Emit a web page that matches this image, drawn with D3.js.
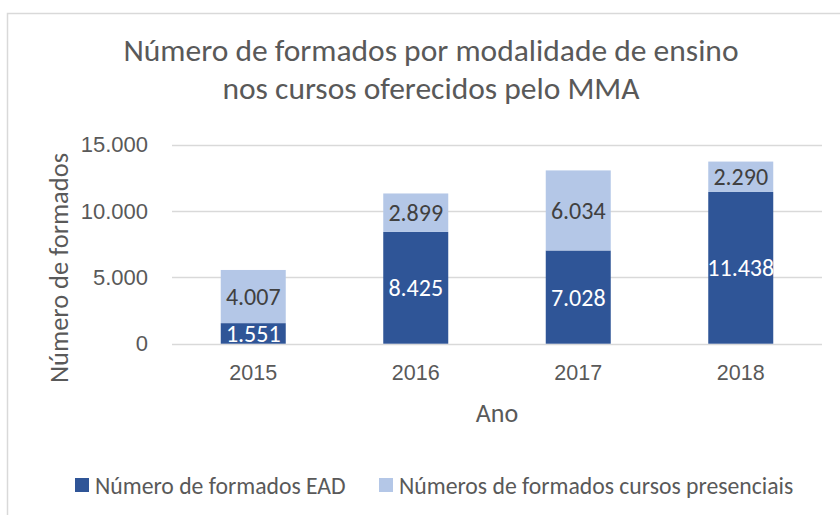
<!DOCTYPE html>
<html>
<head>
<meta charset="utf-8">
<script src="https://cdn.jsdelivr.net/npm/d3@7"></script>
<style>
  html, body { margin: 0; padding: 0; background: #fff; }
  svg { display: block; font-family: Carlito, Lato, "Open Sans", sans-serif; }
</style>
</head>
<body>
<svg id="chart" width="840" height="515"></svg>
<script>
const titleLines = ["Número de formados por modalidade de ensino", "nos cursos oferecidos pelo MMA"];
const categories = ["2015", "2016", "2017", "2018"];
const seriesNames = ["Número de formados EAD", "Números de formados cursos presenciais"];
const ead = [1551, 8425, 7028, 11438];
const presencial = [4007, 2899, 6034, 2290];
const yTicks = [0, 5000, 10000, 15000];
const yTitle = "Número de formados";
const xTitle = "Ano";

const colors = ["#2F5597", "#B4C7E7"];
const labelColors = ["#FFFFFF", "#404040"];
const textColor = "#595959";

const locale = d3.formatLocale({decimal: ",", thousands: ".", grouping: [3], currency: ["R$", ""]});
const fmt = locale.format(",d");

const svg = d3.select("#chart");

// chart frame
svg.append("rect").attr("x", 7.5).attr("y", 13.5).attr("width", 860).attr("height", 540)
  .attr("fill", "#fff").attr("stroke", "#D9D9D9").attr("stroke-width", 1.5);

const plot = {left: 172, right: 822, top: 144.7, bottom: 343.7};

const x = d3.scaleBand().domain(categories).range([plot.left, plot.right]).paddingInner(0.6).paddingOuter(0.3);
const y = d3.scaleLinear().domain([0, 15000]).range([plot.bottom, plot.top]);

// title
svg.append("text").attr("text-anchor", "middle")
  .attr("fill", textColor).style("font-size", "31.5px")
  .selectAll("tspan").data(titleLines).join("tspan")
  .attr("x", 431).attr("y", (d, i) => 61 + i * 38).text(d => d);

// gridlines
svg.append("g").selectAll("line").data(yTicks).join("line")
  .attr("x1", plot.left).attr("x2", plot.right)
  .attr("y1", d => Math.round(y(d)) + 0.5).attr("y2", d => Math.round(y(d)) + 0.5)
  .attr("stroke", "#D9D9D9").attr("stroke-width", 1.5);

// y axis
const yAxis = d3.axisLeft(y).tickValues(yTicks).tickFormat(fmt).tickSize(0).tickPadding(0);
const yg = svg.append("g").attr("transform", `translate(148,0)`).call(yAxis);
yg.select(".domain").remove();
yg.selectAll("text").attr("fill", textColor).style("font-size", "22px").attr("font-family", null);

// x axis
const xAxis = d3.axisBottom(x).tickSize(0).tickPadding(0);
const xg = svg.append("g").attr("transform", `translate(0,365)`).call(xAxis);
xg.select(".domain").remove();
xg.selectAll("text").attr("fill", textColor).style("font-size", "21.5px").attr("font-family", null);

// axis titles
svg.append("text").attr("transform", `translate(68,268) rotate(-90)`).attr("text-anchor", "middle")
  .attr("fill", textColor).style("font-size", "26.5px").text(yTitle);
svg.append("text").attr("x", (plot.left + plot.right) / 2).attr("y", 422).attr("text-anchor", "middle")
  .attr("fill", textColor).style("font-size", "26px").text(xTitle);

// stacked data
const table = categories.map((c, i) => ({cat: c, ead: ead[i], pres: presencial[i]}));
const stack = d3.stack().keys(["ead", "pres"])(table);

const layers = svg.append("g").selectAll("g").data(stack).join("g")
  .attr("fill", (d, i) => colors[i]);
layers.selectAll("rect").data(d => d).join("rect")
  .attr("x", d => x(d.data.cat)).attr("width", x.bandwidth())
  .attr("y", d => y(d[1])).attr("height", d => y(d[0]) - y(d[1]));

// labels
stack.forEach((layer, li) => {
  svg.append("g").selectAll("text").data(layer).join("text")
    .attr("x", d => x(d.data.cat) + x.bandwidth() / 2)
    .attr("y", d => (y(d[0]) + y(d[1])) / 2)
    .attr("dy", "0.36em").attr("text-anchor", "middle")
    .attr("fill", labelColors[li]).style("font-size", "24px")
    .text(d => fmt(d[1] - d[0]));
});

// legend
const legendItems = [{name: seriesNames[0], color: colors[0], x: 75}, {name: seriesNames[1], color: colors[1], x: 379}];
const lg = svg.append("g").selectAll("g").data(legendItems).join("g")
  .attr("transform", d => `translate(${d.x},478)`);
lg.append("rect").attr("width", 14).attr("height", 14).attr("fill", d => d.color);
lg.append("text").attr("x", 20).attr("y", 7).attr("dy", "0.36em")
  .attr("fill", textColor).style("font-size", "23.7px").text(d => d.name);
</script>
</body>
</html>
